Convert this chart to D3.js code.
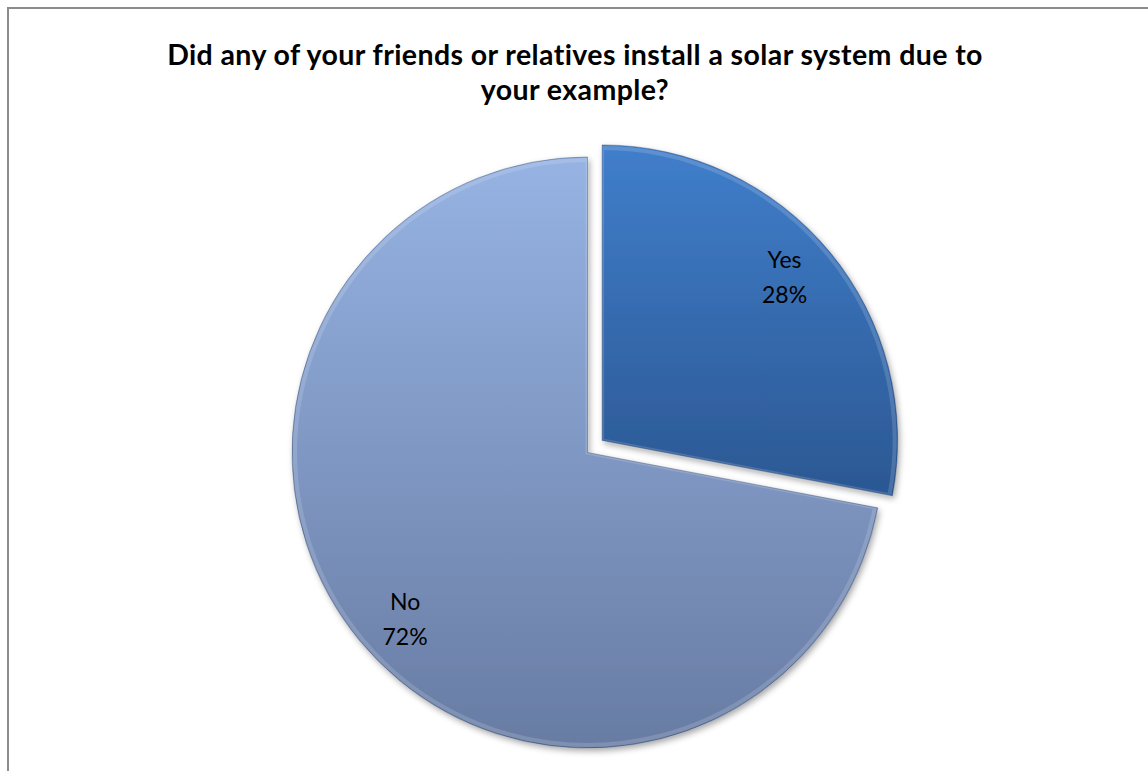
<!DOCTYPE html>
<html><head><meta charset="utf-8">
<script src="https://cdn.jsdelivr.net/npm/d3@7"></script>
<style>body{margin:0;background:#fff}svg{display:block}</style>
</head><body>
<script>
const categories = ["Yes", "No"];
const values = [28, 72];
const labels = ["28%", "72%"];
const titleLines = ["Did any of your friends or relatives install a solar system due to", "your example?"];

const W = 1148, H = 771;
const svg = d3.select("body").append("svg").attr("width", W).attr("height", H);
const defs = svg.append("defs");

// frame
svg.append("rect").attr("x", 8).attr("y", 8).attr("width", W + 20).attr("height", H + 20)
  .attr("fill", "#fff").attr("stroke", "#8c8c8c").attr("stroke-width", 2);

const font = "Lato, 'Open Sans', sans-serif";
svg.append("g").selectAll("text").data(titleLines).join("text")
  .attr("x", 575).attr("y", (d, i) => 65 + i * 34.5)
  .attr("text-anchor", "middle").attr("font-family", font).attr("font-weight", "bold")
  .attr("font-size", 28.5).attr("letter-spacing", 0.4).attr("fill", "#000").text(d => d);

const cx = 587.5, cy = 452.5, r = 295.5, explode = 19;

const grads = [
  {id: "gYes", top: "#407ecb", bot: "#2b5792", y1: -r, y2: 60},
  {id: "gNo", top: "#96b3e3", bot: "#687ca3", y1: -r, y2: r}
];
grads.forEach(g => {
  const lg = defs.append("linearGradient").attr("id", g.id).attr("gradientUnits", "userSpaceOnUse")
    .attr("x1", 0).attr("x2", 0).attr("y1", g.y1).attr("y2", g.y2);
  lg.append("stop").attr("offset", 0).attr("stop-color", g.top);
  lg.append("stop").attr("offset", 1).attr("stop-color", g.bot);
});
const f = defs.append("filter").attr("id", "sh").attr("x", -0.1).attr("y", -0.1).attr("width", 1.2).attr("height", 1.2);
f.append("feDropShadow").attr("dx", 2).attr("dy", 3).attr("stdDeviation", 3).attr("flood-color", "#000").attr("flood-opacity", 0.35);

const pie = d3.pie().sort(null).value(d => d.v);
const arcs = pie(categories.map((c, i) => ({c, v: values[i], l: labels[i]})));
const arc = d3.arc().innerRadius(0).outerRadius(r);
const bevel = d3.arc().innerRadius(0).outerRadius(r - 3);

const g = svg.append("g").attr("transform", `translate(${cx},${cy})`);
const offs = d => {
  const m = (d.startAngle + d.endAngle) / 2;
  return d.index === 0 ? [explode * Math.sin(m), -explode * Math.cos(m)] : [0, 0];
};
const slices = g.selectAll("g.s").data(arcs).join("g").attr("class", "s")
  .attr("transform", d => `translate(${offs(d)})`);
slices.append("path").attr("d", arc).attr("fill", (d, i) => `url(#${grads[i].id})`)
  .attr("filter", "url(#sh)");
slices.append("path").attr("d", bevel).attr("fill", "none")
  .attr("stroke", "rgba(255,255,255,0.15)").attr("stroke-width", 4);
slices.append("path").attr("d", arc).attr("fill", "none")
  .attr("stroke", "rgba(30,50,90,0.35)").attr("stroke-width", 1);

// label position: slightly rotated back from the mid-angle, as the original places them
const lblPos = d => {
  const a = (d.startAngle + d.endAngle) / 2 - 0.045, rr = r * 0.833;
  return [rr * Math.sin(a), -rr * Math.cos(a) + 2];
};
const lt = slices.append("text").attr("text-anchor", "middle").attr("font-family", font)
  .attr("font-size", 23).attr("fill", "#000")
  .attr("transform", d => `translate(${lblPos(d)})`);
lt.append("tspan").attr("x", 0).attr("y", -9.5).text(d => d.data.c);
lt.append("tspan").attr("x", 0).attr("y", 25.5).text(d => d.data.l);
</script>
</body></html>
